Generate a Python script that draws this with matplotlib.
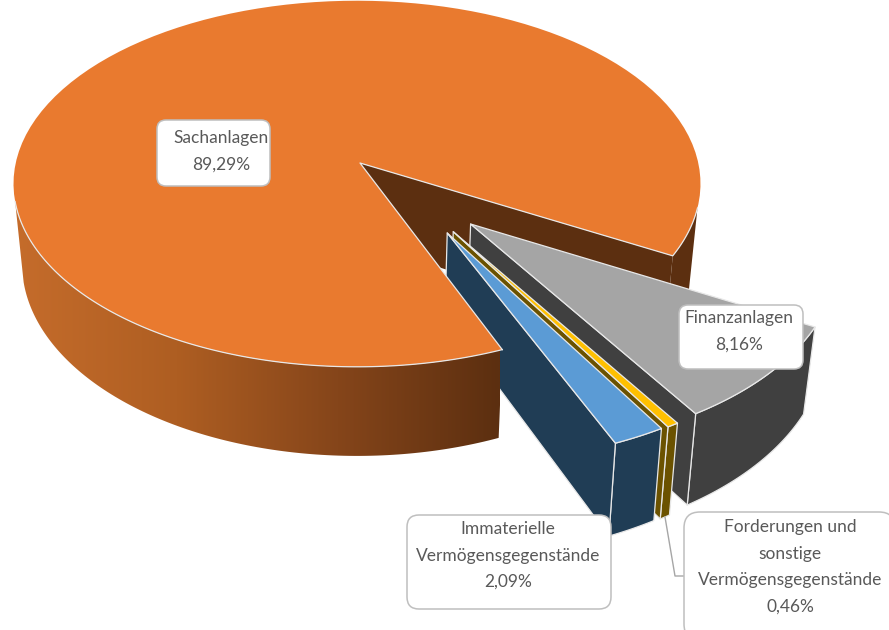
import numpy as np
import matplotlib
matplotlib.use('Agg')
import matplotlib.pyplot as plt
from matplotlib.colors import LinearSegmentedColormap
from matplotlib.patches import Polygon, FancyBboxPatch

# Daten
names = ['Sachanlagen', 'Finanzanlagen', 'Forderungen und\nsonstige\nVermögensgegenstände',
         'Immaterielle\nVermögensgegenstände']
values = [89.29, 8.16, 0.46, 2.09]

top_colors = ['#E97A2F', '#A5A5A5', '#FFC000', '#5B9BD5']
side_colors = ['#5C2F10', '#404040', '#6B5200', '#203D55']

# Explosion der Segmente in der Tortenebene
offsets = [(0.0, 0.0), (0.319, 0.3236), (0.269, 0.3625), (0.252, 0.369)]
radii = [0.995, 1.02, 1.02, 1.02]
start_angle = 67.6

# Beschriftungen: Box (x0, y0, x1, y1), Radius, Text-x, erste Zeile y
boxes = [(157, 120, 270, 186, 9, 221, 138),
         (679, 305, 803, 369, 9, 739, 318),
         (684, 512, 895, 640, 16, 790, 527),
         (407, 515, 611, 609, 12, 508, 529)]
line_step = 26.5

# Perspektive
cx, cy = 357, 163
a, b, k = 343, 181.6, 0.114
depth, shrink = 79, 0.975
edge = '#E8E8E8'

plt.rcParams['font.family'] = ['Lato', 'DejaVu Sans']

fig = plt.figure(figsize=(8.89, 6.3), dpi=100)
ax = fig.add_axes([0, 0, 1, 1])


def top(X, Y):
    w = 1 - k * np.asarray(Y)
    return np.column_stack([cx + a * np.asarray(X) / w, cy + b * np.asarray(Y) / w])


def bottom(X, Y):
    p = top(X, Y)
    w = 1 - k * np.asarray(Y)
    return np.column_stack([cx + (p[:, 0] - cx) * shrink, p[:, 1] + depth / w])


def arc(t0, t1, r, off):
    t = np.radians(np.linspace(t0, t1, 120))
    return off[0] + r * np.cos(t), off[1] + r * np.sin(t)


def rim(t0, t1, r, off):
    X, Y = arc(t0, t1, r, off)
    return np.vstack([top(X, Y), bottom(X, Y)[::-1]])


def wall(p, off, t, r):
    # Schnittfläche vom Mittelpunkt zum Rand
    X = np.array([p[0], off[0] + r * np.cos(np.radians(t))])
    Y = np.array([p[1], off[1] + r * np.sin(np.radians(t))])
    return np.vstack([top(X, Y), bottom(X, Y)[::-1]])


def poly(pts, color, z, lw=0.9, ec=edge):
    ax.add_patch(Polygon(pts, closed=True, fc=color, ec=ec, lw=lw, zorder=z, joinstyle='round'))


# Winkel aus den Werten
sweeps = [v / sum(values) * 360 for v in values]
t_end_main = start_angle + sweeps[0] - 360

# Sachanlagen: hinterer Rand und Innenwand
pie_tip = (3 / a, 0.0)
poly(rim(14, t_end_main, radii[0], offsets[0]), side_colors[0], 1, lw=0, ec='none')
poly(wall(pie_tip, offsets[0], t_end_main, radii[0]), side_colors[0], 2, lw=0, ec='none')

# Herausgezogene Segmente, von hinten nach vorn
t = t_end_main
for i in range(1, 4):
    t0, t1 = t, t + sweeps[i]
    t = t1
    off, r = offsets[i], radii[i]
    z = i * 3
    poly(rim(t0, t1, r, off), side_colors[i], z)
    poly(wall(off, off, t1, r), side_colors[i], z + 1)
    Xa, Ya = arc(t0, t1, r, off)
    poly(top(np.r_[off[0], Xa], np.r_[off[1], Ya]), top_colors[i], z + 2)

# Sachanlagen: vorderer Rand mit Verlauf und Oberseite liegen vor den Segmenten
cmap = LinearSegmentedColormap.from_list('rand', ['#C56C2B', '#AE5E22', '#85451A', '#5C2F10'])
front = rim(start_angle, 168, radii[0], offsets[0])
im = ax.imshow(np.linspace(0, 1, 256)[None, :], cmap=cmap, extent=(15, 500, 470, 200),
               aspect='auto', zorder=13, interpolation='bilinear')
im.set_clip_path(Polygon(front, closed=True, transform=ax.transData))
X, Y = arc(start_angle, start_angle + sweeps[0], radii[0], offsets[0])
X = np.concatenate([[pie_tip[0]], X])
Y = np.concatenate([[pie_tip[1]], Y])
poly(top(X, Y), top_colors[0], 14, lw=0, ec='none')

# helle Kante nur vorn und an den Schnitten, hinten läuft die Fläche ins Weiss
Xf, Yf = arc(start_angle, 168, radii[0], offsets[0])
pf = top(Xf, Yf)
ax.plot(pf[:, 0], pf[:, 1], color=edge, lw=0.9, zorder=15)
Xr, Yr = arc(14, t_end_main, radii[0], offsets[0])
cut = top(np.r_[Xr, pie_tip[0], Xf[0]], np.r_[Yr, pie_tip[1], Yf[0]])
ax.plot(cut[:, 0], cut[:, 1], color=edge, lw=0.9, zorder=15)

# Führungslinie
ax.plot([665, 675, 684], [517, 576, 576], color='#A6A6A6', lw=1, zorder=19)

# Beschriftungen
for name, v, (x0, y0, x1, y1, rad, tx, ty) in zip(names, values, boxes):
    ax.add_patch(FancyBboxPatch((x0, y0), x1 - x0, y1 - y0, boxstyle=f'round,pad=0,rounding_size={rad}',
                                fc='white', ec='#BFBFBF', lw=1.1, zorder=20))
    lines = name.split('\n') + [f'{v:.2f}'.replace('.', ',') + '%']
    for j, s in enumerate(lines):
        ax.text(tx, ty + j * line_step, s, ha='center', va='center', fontsize=12.5,
                color='#595959', zorder=21)

ax.set_xlim(0, 889)
ax.set_ylim(630, 0)
ax.axis('off')
fig.savefig('out.png', dpi=100, facecolor='white')
